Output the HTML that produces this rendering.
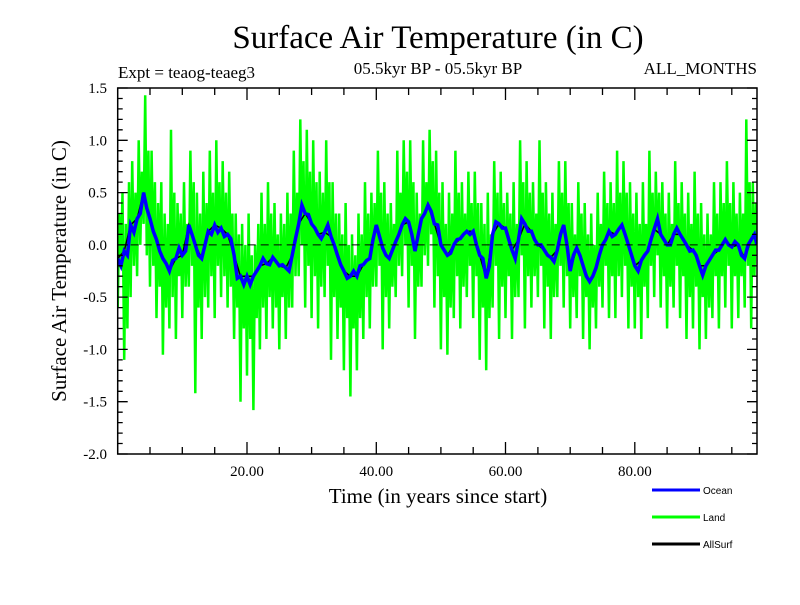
<!DOCTYPE html>
<html><head><meta charset="utf-8"><style>
body{margin:0;background:#fff;}
svg text{font-family:"Liberation Serif",serif;}
</style></head><body>
<svg id="chart" width="800" height="600" xmlns="http://www.w3.org/2000/svg">
<rect width="800" height="600" fill="#fff"/>
<text x="438" y="48" font-size="33" text-anchor="middle">Surface Air Temperature (in C)</text>
<text x="118" y="78" font-size="17">Expt = teaog-teaeg3</text>
<text x="438" y="74" font-size="17" text-anchor="middle">05.5kyr BP - 05.5kyr BP</text>
<text x="757" y="74" font-size="17" text-anchor="end">ALL_MONTHS</text>
<text transform="translate(66,271) rotate(-90)" font-size="21" text-anchor="middle">Surface Air Temperature (in C)</text>
<text x="438" y="503" font-size="21" text-anchor="middle">Time (in years since start)</text>
<g id="plot"></g>
<g id="legend">
<line x1="652" y1="490" x2="700" y2="490" stroke="#0000ff" stroke-width="3"/>
<text x="703" y="494" font-size="10" style="font-family:'Liberation Sans',sans-serif">Ocean</text>
<line x1="652" y1="517" x2="700" y2="517" stroke="#00ff00" stroke-width="3"/>
<text x="703" y="521" font-size="10" style="font-family:'Liberation Sans',sans-serif">Land</text>
<line x1="652" y1="544" x2="700" y2="544" stroke="#000" stroke-width="3"/>
<text x="703" y="548" font-size="10" style="font-family:'Liberation Sans',sans-serif">AllSurf</text>
</g>
</svg>
<script>
const ocean = [-0.13,-0.2,-0.06,-0.1,0.19,0.12,0.25,0.3,0.5,0.35,0.25,0.13,0.05,-0.06,-0.13,-0.18,-0.25,-0.15,-0.13,-0.03,-0.1,-0.06,0.19,0.1,0.0,-0.1,-0.13,0.0,0.13,0.1,0.19,0.12,0.16,0.08,0.1,0.06,-0.1,-0.32,-0.3,-0.38,-0.3,-0.38,-0.3,-0.25,-0.2,-0.13,-0.18,-0.19,-0.12,-0.16,-0.2,-0.19,-0.22,-0.25,-0.1,0.06,0.2,0.38,0.3,0.29,0.2,0.16,0.1,0.06,0.12,0.19,0.08,0.0,-0.1,-0.19,-0.25,-0.32,-0.3,-0.25,-0.3,-0.2,-0.19,-0.15,-0.13,0.05,0.19,0.08,-0.03,-0.1,-0.13,-0.05,0.03,0.1,0.19,0.25,0.22,0.1,-0.06,0.1,0.25,0.3,0.38,0.32,0.2,0.19,0.0,-0.05,-0.1,-0.08,0.0,0.05,0.06,0.1,0.13,0.1,0.13,0.0,-0.1,-0.13,-0.32,-0.2,0.1,0.22,0.2,0.16,0.16,0.05,-0.05,-0.13,0.05,0.25,0.2,0.13,0.13,0.05,0.0,0.0,-0.05,-0.1,-0.12,-0.16,-0.05,0.1,0.19,0.0,-0.25,-0.1,-0.03,-0.1,-0.2,-0.3,-0.35,-0.3,-0.22,-0.1,0.0,0.05,0.13,0.08,0.1,0.15,0.19,0.1,0.0,-0.1,-0.2,-0.25,-0.15,-0.1,-0.06,0.05,0.15,0.25,0.1,0.05,0.0,0.0,0.1,0.16,0.1,0.05,0.0,-0.06,-0.05,-0.1,-0.2,-0.29,-0.2,-0.15,-0.1,-0.05,-0.05,0.0,0.05,0.0,-0.02,0.03,0.0,-0.1,-0.13,0.0,0.05,0.1,0.0];
const land = [
-0.6,0.3,-0.2,0.5, -1.1,0.2,-0.8,0.6, -0.5,0.8,-0.2,0.5, -0.3,1.0,0.0,0.7, 0.2,1.43,-0.1,0.9,
-0.4,0.9,-0.2,0.6, -0.7,0.4,-0.4,0.6, -1.05,0.3,-0.6,0.2, -0.8,1.1,-0.5,0.5, -0.9,0.4,-0.3,0.3,
-0.7,0.6,-0.4,0.2, -0.4,0.9,-0.2,0.6, -1.42,0.5,-0.6,0.3, -0.9,0.7,-0.5,0.4, -0.6,0.9,-0.3,0.5,
-0.7,1.0,-0.2,0.6, -0.5,0.8,-0.3,0.5, -0.6,0.7,-0.4,0.3, -0.9,0.3,-0.6,0.1, -1.5,0.2,-0.8,0.0,
-1.25,0.3,-0.9,-0.1, -1.58,0.0,-0.7,0.2, -1.0,0.5,-0.6,0.2, -0.9,0.6,-0.5,0.3, -0.8,0.4,-0.6,0.1,
-1.0,0.3,-0.5,0.2, -0.9,0.5,-0.6,0.3, -0.6,0.9,-0.3,0.5, -0.3,1.2,0.0,0.8, -0.6,1.1,-0.2,0.7,
-0.7,1.0,-0.3,0.6, -0.8,0.7,-0.4,0.5, -0.5,1.0,-0.2,0.6, -1.1,0.6,-0.5,0.3, -0.9,0.3,-0.6,0.1,
-1.2,0.4,-0.7,0.0, -1.45,0.1,-0.8,-0.1, -1.2,0.3,-0.7,0.1, -0.9,0.6,-0.5,0.3, -0.8,0.5,-0.4,0.4,
-0.4,0.9,-0.2,0.5, -1.0,0.6,-0.5,0.3, -0.8,0.4,-0.4,0.2, -0.5,0.9,-0.2,0.5, -0.3,1.0,0.0,0.7,
-0.6,1.0,-0.2,0.6, -0.9,0.5,-0.4,0.3, -0.4,1.0,-0.1,0.6, -0.2,1.1,0.1,0.8, -0.6,0.9,-0.3,0.5,
-1.0,0.6,-0.5,0.2, -1.05,0.5,-0.6,0.3, -0.7,0.9,-0.3,0.5, -0.8,0.6,-0.4,0.3, -0.5,0.7,-0.2,0.4,
-0.7,0.7,-0.3,0.4, -1.1,0.4,-0.6,0.2, -1.2,0.5,-0.7,0.1, -0.6,0.8,-0.2,0.5, -0.9,0.7,-0.4,0.4,
-0.7,0.5,-0.3,0.3, -0.9,0.6,-0.5,0.2, -0.5,1.0,-0.1,0.6, -0.8,0.8,-0.3,0.5, -0.6,0.6,-0.3,0.3,
-0.5,1.0,-0.2,0.5, -0.8,0.6,-0.4,0.3, -0.9,0.5,-0.5,0.2, -0.5,0.8,-0.2,0.5, -0.6,0.8,-0.3,0.4,
-0.8,0.4,-0.5,0.1, -0.7,0.6,-0.3,0.3, -0.9,0.4,-0.5,0.1, -1.0,0.3,-0.6,0.0, -0.8,0.5,-0.4,0.2,
-0.6,0.7,-0.2,0.4, -0.7,0.6,-0.3,0.4, -0.7,0.9,-0.3,0.5, -0.5,0.8,-0.2,0.5, -0.8,0.6,-0.4,0.3,
-0.8,0.5,-0.5,0.2, -0.9,0.6,-0.4,0.2, -0.7,0.9,-0.2,0.5, -0.5,0.7,-0.1,0.5, -0.6,0.6,-0.3,0.3,
-0.8,0.5,-0.4,0.2, -0.6,0.8,-0.2,0.4, -0.7,0.6,-0.3,0.3, -0.9,0.5,-0.5,0.2, -0.8,0.7,-0.4,0.3,
-1.0,0.4,-0.5,0.1, -0.9,0.3,-0.6,0.1, -0.7,0.6,-0.3,0.3, -0.8,0.6,-0.3,0.4, -0.6,0.8,-0.2,0.4,
-0.8,0.6,-0.3,0.3, -0.7,0.5,-0.3,0.3, -0.6,1.2,-0.2,0.6, -0.8,0.6,-0.3,0.4];
const allsurf = [-0.13,-0.06,0.19,0.25,0.5,0.25,0.05,-0.13,-0.25,-0.13,-0.1,0.19,0.0,-0.13,0.13,0.19,0.16,0.1,-0.1,-0.3,-0.3,-0.3,-0.2,-0.18,-0.12,-0.2,-0.22,-0.1,0.2,0.3,0.2,0.1,0.12,0.08,-0.1,-0.25,-0.3,-0.3,-0.19,-0.13,0.19,-0.03,-0.13,0.03,0.19,0.22,-0.06,0.25,0.38,0.2,0.0,-0.1,0.0,0.06,0.13,0.13,-0.1,-0.32,0.1,0.2,0.16,-0.05,0.05,0.2,0.13,0.0,-0.05,-0.12,-0.05,0.19,-0.25,-0.03,-0.2,-0.35,-0.22,0.0,0.13,0.1,0.19,0.0,-0.2,-0.15,-0.06,0.15,0.1,0.0,0.1,0.1,0.0,-0.05,-0.2,-0.2,-0.1,-0.05,0.05,-0.02,0.0,-0.13,0.05];
const yTickLabels = ["1.5","1.0","0.5","0.0","-0.5","-1.0","-1.5","-2.0"];
const yTickValues = [1.5,1.0,0.5,0.0,-0.5,-1.0,-1.5,-2.0];
const xTickLabels = ["20.00","40.00","60.00","80.00"];
const xTickValues = [20,40,60,80];

const X0=117.7, X1=757, XMAX=98.9, Y0=88, Y1=454, YMAX=1.5, YMIN=-2.0;
function xs(t){return X0+(t/XMAX)*(X1-X0);}
function ys(v){return Y0+(YMAX-v)/(YMAX-YMIN)*(Y1-Y0);}
const NS="http://www.w3.org/2000/svg";
const plot=document.getElementById('plot');
function mk(tag,attrs){const e=document.createElementNS(NS,tag);for(const k in attrs)e.setAttribute(k,attrs[k]);return e;}

const clip=mk('clipPath',{id:'pc'});clip.appendChild(mk('rect',{x:117,y:88,width:640,height:366}));plot.appendChild(clip);
function series(arr,step,color,w,name){
  const pts=arr.map((v,i)=>xs(Math.min(i*step,XMAX)).toFixed(1)+','+ys(v).toFixed(1)).join(' ');
  const p=mk('polyline',{points:pts,fill:'none',stroke:color,'stroke-width':w,'stroke-linejoin':'miter','clip-path':'url(#pc)'});
  
  
  plot.appendChild(p);
}
series(land,0.25,'#00ff00',2.5,'land-series');
series(allsurf,1,'#000000',1.5,'allsurf-series');
series(ocean,0.5,'#0000ff',3.5,'ocean-series');

const zl=mk('line',{x1:X0,x2:X1,y1:ys(0),y2:ys(0),stroke:'#000','stroke-width':1,'stroke-dasharray':'8,5'});


plot.appendChild(zl);

const frame=mk('rect',{x:X0,y:Y0,width:X1-X0,height:Y1-Y0,fill:'none',stroke:'#000','stroke-width':1.5});


plot.appendChild(frame);

let tk='';
for(let i=0;i<=35;i++){const v=YMIN+i*0.1;const y=ys(v);const L=(i%5===0)?10:5;
  tk+=`M${X0},${y.toFixed(1)}h${L}M${X1},${y.toFixed(1)}h${-L}`;}
for(let t=5;t<XMAX;t+=5){const x=xs(t);const L=(t%20===0)?12:7;
  tk+=`M${x.toFixed(1)},${Y0}v${L}M${x.toFixed(1)},${Y1}v${-L}`;}
const ticks=mk('path',{d:tk,stroke:'#000','stroke-width':1.3,fill:'none'});


plot.appendChild(ticks);

yTickLabels.forEach((lab,i)=>{
  const t=mk('text',{x:107,y:ys(yTickValues[i])+5,'font-size':15,'text-anchor':'end'});
  t.textContent=lab;
  
  
  plot.appendChild(t);
});
xTickLabels.forEach((lab,i)=>{
  const t=mk('text',{x:xs(xTickValues[i]),y:476,'font-size':15,'text-anchor':'middle'});
  t.textContent=lab;
  
  
  plot.appendChild(t);
});
</script>
</body></html>
